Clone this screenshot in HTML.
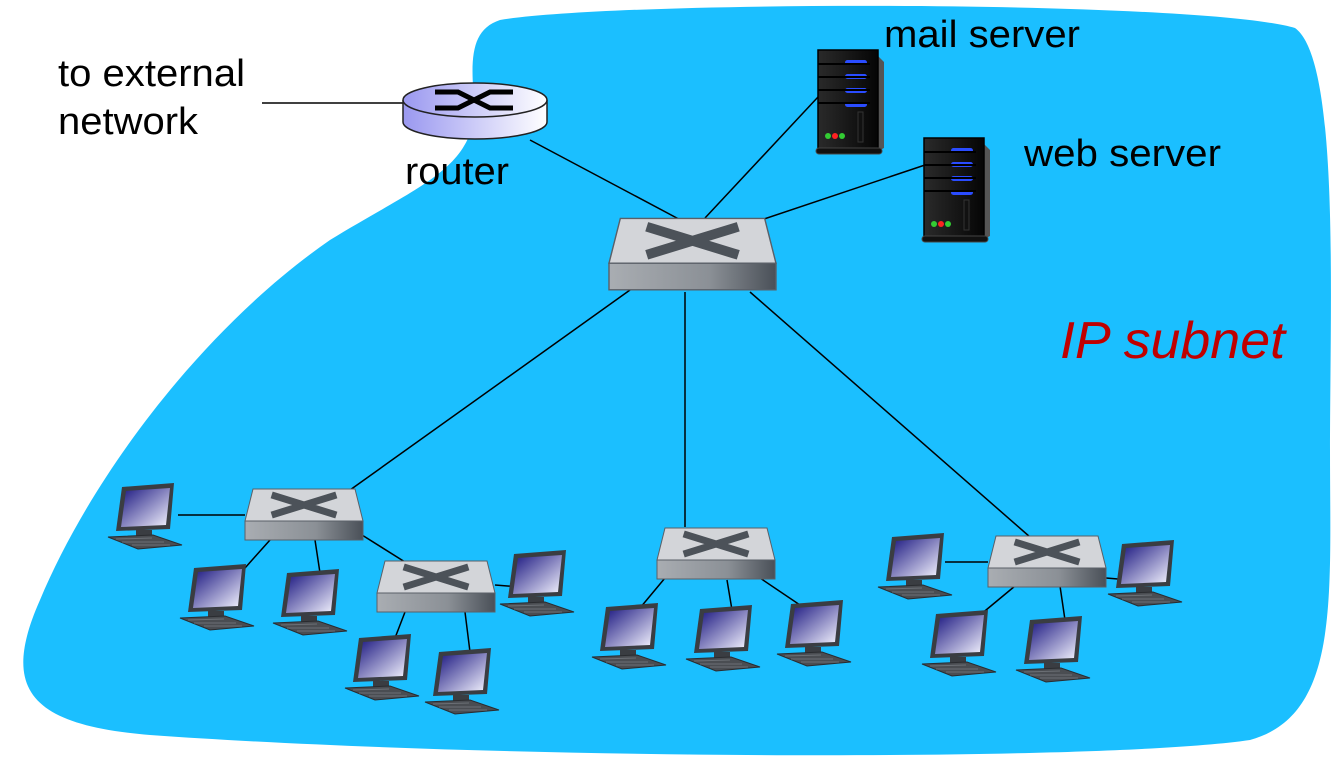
<!DOCTYPE html>
<html><head><meta charset="utf-8"><style>
html,body{margin:0;padding:0;background:#fff;}
svg{display:block;font-family:"Liberation Sans",Arial,sans-serif;}
</style></head><body>
<svg width="1334" height="762" viewBox="0 0 1334 762" xmlns="http://www.w3.org/2000/svg">
<defs>
<linearGradient id="sside" x1="0" x2="1" y1="0" y2="0"><stop offset="0" stop-color="#a9adb2"/><stop offset="0.6" stop-color="#8b9096"/><stop offset="1" stop-color="#4a5058"/></linearGradient>
<linearGradient id="scr" x1="0" x2="1" y1="0" y2="1"><stop offset="0" stop-color="#1a1680"/><stop offset="1" stop-color="#f4f4ff"/></linearGradient>
<linearGradient id="rt" x1="0" x2="1"><stop offset="0" stop-color="#9a98f0"/><stop offset="1" stop-color="#ffffff"/></linearGradient>
<linearGradient id="srv" x1="0" x2="1"><stop offset="0" stop-color="#2a2a2a"/><stop offset="1" stop-color="#050505"/></linearGradient>
<g id="sw">
 <polygon points="8,1 110,1 118,33 0,33" fill="#d3d5d9" stroke="#5a6068" stroke-width="1"/>
 <rect x="0" y="33" width="118" height="19" fill="url(#sside)" stroke="#5a6068" stroke-width="1"/>
 <path d="M30,8 L88,26 M88,8 L30,26" stroke="#4c5259" stroke-width="7" stroke-linecap="square"/>
</g>
<g id="pc">
 <polygon points="14,2 66,-2 62,44 8,46" fill="#3a3d42"/>
 <polygon points="18,6 62,3 58,40 13,42" fill="url(#scr)"/>
 <rect x="28" y="45" width="16" height="6" fill="#3a3d42"/>
 <polygon points="0,52 45,50 74,60 30,64" fill="#4a4d52" stroke="#2a2c30" stroke-width="1"/>
 <path d="M8,54 L44,53 M14,57 L56,57 M24,60 L62,60" stroke="#6c7076" stroke-width="1"/>
</g>
<g id="srvr">
 <polygon points="58,4 66,12 66,98 58,102" fill="#555"/>
 <rect x="0" y="0" width="60" height="100" fill="url(#srv)" stroke="#000" stroke-width="1.5"/>
 <rect x="-2" y="98" width="66" height="6" rx="3" fill="#111" stroke="#444"/>
 <g fill="#2a4cff"><rect x="27" y="10" width="22" height="5" rx="2.5"/><rect x="27" y="24" width="22" height="5" rx="2.5"/><rect x="27" y="38" width="22" height="5" rx="2.5"/><rect x="27" y="52" width="22" height="5" rx="2.5"/></g>
 <path d="M0,14 H52 M0,27 H52 M0,40 H52 M0,53 H52" stroke="#000" stroke-width="2"/>
 <rect x="40" y="62" width="5" height="30" fill="#111" stroke="#333"/>
 <circle cx="10" cy="86" r="3" fill="#3c3"/><circle cx="17" cy="86" r="3" fill="#f22"/><circle cx="24" cy="86" r="3" fill="#3c3"/>
</g>
</defs>
<path d="M500,20 C620,0 1200,0 1295,28 C1340,60 1330,300 1330,450 C1330,600 1340,715 1250,740 C1100,762 500,760 150,735 C30,725 0,690 40,600 C90,480 200,330 330,240 C420,185 470,170 475,110 C470,60 470,30 500,20 Z" fill="#1bbfff"/>
<g stroke="#000" stroke-width="1.5" fill="none">
<line x1="262" y1="103" x2="405" y2="103"/>
<line x1="530" y1="140" x2="690" y2="225"/>
<line x1="818" y1="97" x2="705" y2="218"/>
<line x1="925" y1="165" x2="755" y2="222"/>
<line x1="630" y1="290" x2="350" y2="490"/>
<line x1="685" y1="292" x2="685" y2="527"/>
<line x1="750" y1="292" x2="1030" y2="537"/>
<line x1="178" y1="515" x2="245" y2="515"/>
<line x1="270" y1="540" x2="245" y2="568"/>
<line x1="315" y1="540" x2="320" y2="573"/>
<line x1="362" y1="535" x2="405" y2="562"/>
<line x1="495" y1="585" x2="520" y2="587"/>
<line x1="405" y1="612" x2="395" y2="638"/>
<line x1="465" y1="612" x2="470" y2="652"/>
<line x1="665" y1="578" x2="640" y2="608"/>
<line x1="727" y1="580" x2="732" y2="610"/>
<line x1="760" y1="578" x2="800" y2="605"/>
<line x1="988" y1="562" x2="945" y2="562"/>
<line x1="1106" y1="578" x2="1130" y2="580"/>
<line x1="1015" y1="586" x2="980" y2="615"/>
<line x1="1060" y1="586" x2="1065" y2="620"/>
</g>
<path d="M403,100 V122 A72,17 0 0 0 547,122 V100" fill="url(#rt)" stroke="#222" stroke-width="1.5"/>
<ellipse cx="475" cy="100" rx="72" ry="17" fill="url(#rt)" stroke="#222" stroke-width="1.5"/>
<path d="M435,92 H458 L490,108 H513 M435,108 H458 L490,92 H513" stroke="#000" stroke-width="5" fill="none"/>
<use href="#sw" transform="translate(609,217) scale(1.415,1.4)"/>
<use href="#sw" x="245" y="488"/>
<use href="#sw" x="377" y="560"/>
<use href="#sw" x="657" y="527"/>
<use href="#sw" x="988" y="535"/>
<use href="#pc" x="108" y="485"/>
<use href="#pc" x="180" y="566"/>
<use href="#pc" x="273" y="571"/>
<use href="#pc" x="345" y="636"/>
<use href="#pc" x="425" y="650"/>
<use href="#pc" x="500" y="552"/>
<use href="#pc" x="592" y="605"/>
<use href="#pc" x="686" y="607"/>
<use href="#pc" x="777" y="602"/>
<use href="#pc" x="878" y="535"/>
<use href="#pc" x="922" y="612"/>
<use href="#pc" x="1016" y="618"/>
<use href="#pc" x="1108" y="542"/>
<use href="#srvr" x="818" y="50"/>
<use href="#srvr" x="924" y="138"/>
<g font-size="38" fill="#000">
<text x="58" y="86" textLength="187" lengthAdjust="spacingAndGlyphs">to external</text>
<text x="58" y="134" textLength="140" lengthAdjust="spacingAndGlyphs">network</text>
<text x="405" y="184" textLength="104" lengthAdjust="spacingAndGlyphs">router</text>
<text x="884" y="47" textLength="196" lengthAdjust="spacingAndGlyphs">mail server</text>
<text x="1024" y="166" textLength="197" lengthAdjust="spacingAndGlyphs">web server</text>
</g>
<text x="1060" y="358" font-size="52" font-style="italic" fill="#c00000" textLength="225" lengthAdjust="spacingAndGlyphs">IP subnet</text>
</svg>
</body></html>
